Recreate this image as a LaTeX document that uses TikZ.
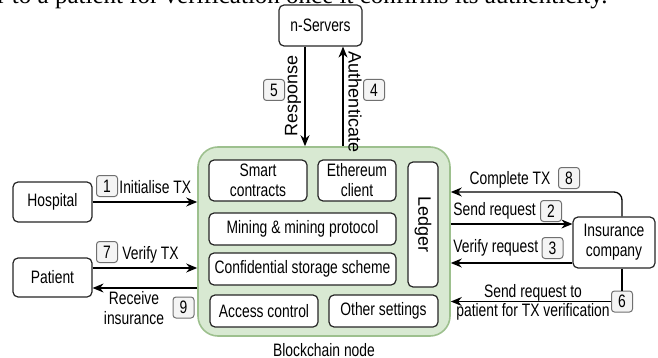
\documentclass[tikz,border=0pt]{standalone}
\usepackage{fontspec}
\setmainfont{Liberation Sans}[FakeStretch=0.77]
\newfontfamily\sidefont{Liberation Sans}
\newfontfamily\pagefont{Liberation Serif}
\usetikzlibrary{arrows.meta,positioning}

\definecolor{chainfill}{HTML}{D8E9D2}
\definecolor{chainline}{HTML}{9DC08E}
\definecolor{stepfill}{HTML}{F4F4F4}
\definecolor{stepline}{HTML}{707070}

\tikzset{
  actor/.style={draw=black!85, fill=white, rounded corners=2.5pt, line width=0.6pt,
    align=center, inner sep=0pt},
  part/.style={actor, font=\fontsize{9}{10}\selectfont},
  chain/.style={draw=chainline, fill=chainfill, rounded corners=10pt, line width=0.8pt},
  stepno/.style={draw=stepline, fill=stepfill, rounded corners=1.5pt, line width=0.5pt,
    minimum width=10.5pt, minimum height=10.5pt, inner sep=0pt},
  txt/.style={inner sep=0pt, align=center},
  link/.style={-{Stealth[length=5.5pt,width=4.5pt]}, line width=0.65pt},
}

\begin{document}
\begin{tikzpicture}[x=0.5pt,y=-0.5pt,font=\fontsize{9}{10}\selectfont]
  \useasboundingbox (0,0) rectangle (658,358);

  % cut line of the page above
  \begin{scope}
    \clip (0,0) rectangle (658,358);
    \node[anchor=base west, inner sep=0pt, font=\pagefont\fontsize{12.5}{13}\selectfont]
      (pageline) at (-3,4) {r to a patient for verification once it confirms its authenticity.};
  \end{scope}

  % blockchain node and its parts
  \node[chain, minimum width=126pt, minimum height=94.5pt] (bnode) at (324,241.5) {};
  \node[txt, below=3pt of bnode] (bcap) {Blockchain node};

  \node[part, minimum width=49pt, minimum height=20.5pt] (smart) at (258,180.5) {Smart\\contracts};
  \node[part, minimum width=39pt, minimum height=20.5pt] (eth) at (357,180.5) {Ethereum\\client};
  \node[part, minimum width=62.5pt, minimum height=15pt, rotate=-90, font=\sidefont\fontsize{9}{10}\selectfont]
    (ledger) at (423,224.5) {Ledger};
  \node[part, minimum width=93.5pt, minimum height=16pt] (mining) at (302.5,229) {Mining \& mining protocol};
  \node[part, minimum width=93.5pt, minimum height=16pt] (store) at (302.5,269) {Confidential storage scheme};
  \node[part, minimum width=54pt, minimum height=16pt] (access) at (264,311) {Access control};
  \node[part, minimum width=54.5pt, minimum height=16pt] (other) at (383.5,311) {Other settings};

  % servers
  \node[actor, minimum width=41.5pt, minimum height=20.5pt] (servers) at (320.5,25.5) {n-Servers};
  \coordinate (resp) at ([xshift=-7.75pt]servers.south);
  \coordinate (auth) at ([xshift=11.25pt]servers.south);
  \draw[link] (resp) -- (resp |- bnode.north);
  \draw[link] (auth |- bnode.north) -- (auth);
  \node[txt, rotate=90, font=\sidefont\fontsize{9}{10}\selectfont] (resptxt) at (293,96) {Response};
  \node[txt, rotate=-90, font=\sidefont\fontsize{9}{10}\selectfont] (authtxt) at (355,102) {Authenticate};
  \node[stepno] (n5) at (274,90) {5};
  \node[stepno] (n4) at (374,90) {4};

  % hospital and patient
  \node[actor, minimum width=39.5pt, minimum height=20pt] (hosp) at (52.5,202) {Hospital};
  \node[actor, minimum width=39.5pt, minimum height=19.5pt] (pat) at (52.5,277.5) {Patient};
  \draw[link] (hosp.east) -- (hosp.east -| bnode.west);
  \coordinate (vtx) at ([yshift=4.75pt]pat.east);
  \coordinate (rins) at ([yshift=-5.25pt]pat.east);
  \draw[link] (vtx) -- (vtx -| bnode.west);
  \draw[link] (rins -| bnode.west) -- (rins);
  \node[stepno] (n1) at (107,186) {1};
  \node[txt, anchor=west] (itx) at (119,187) {Initialise TX};
  \node[stepno] (n7) at (107,252) {7};
  \node[txt, anchor=west] (vtxt) at (122,255) {Verify TX};
  \node[txt] (rtxt) at (134,308) {Receive\\insurance};
  \node[stepno] (n9) at (183.5,307.5) {9};

  % insurance company
  \node[actor, minimum width=41pt, minimum height=25.5pt] (ins) at (614,242.5) {Insurance\\company};
  \coordinate (ctx) at ([xshift=4pt]ins.north);
  \draw[link, rounded corners=4pt] (ctx) |- ([yshift=24.75pt]bnode.east);
  \coordinate (sreq) at ([yshift=9.25pt]ins.west);
  \coordinate (vreq) at ([yshift=-10.25pt]ins.west);
  \draw[link] (sreq -| bnode.east) -- (sreq);
  \draw[link] (vreq) -- (vreq -| bnode.east);
  \node[stepno] (n6) at (622,301.5) {6};
  \draw[line width=0.65pt] ([xshift=4pt]ins.south) -- (n6.north);
  \draw[link] (n6.west) -- (n6.west -| bnode.east);

  \node[txt] (ctxt) at (510,180) {Complete TX};
  \node[stepno] (n8) at (569,178) {8};
  \node[txt, anchor=west] (stxt) at (453,211) {Send request};
  \node[stepno] (n2) at (551,211) {2};
  \node[txt, anchor=west] (vrtxt) at (453,248) {Verify request};
  \node[stepno] (n3) at (552.5,248) {3};
  \node[txt, font=\fontsize{9}{9.5}\selectfont] (ptxt) at (533,302) {Send request to\\patient for TX verification};
\end{tikzpicture}
\end{document}
